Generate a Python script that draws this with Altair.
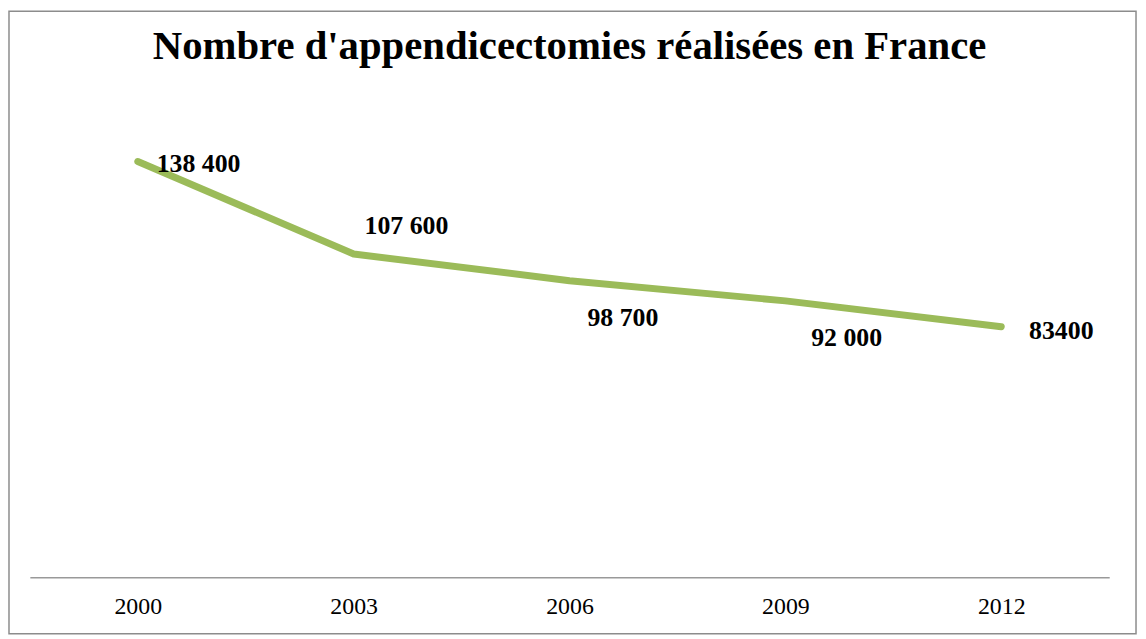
import altair as alt
import pandas as pd

years = ["2000", "2003", "2006", "2009", "2012"]
values = [138400, 107600, 98700, 92000, 83400]
labels = ["138 400", "107 600", "98 700", "92 000", "83400"]

# per-label offsets (style, in pixels)
label_dx = [19, 11, 18, 26, 28]
label_dy = [3, -28, 38, 37, 4]

df = pd.DataFrame({"year": years, "value": values, "label": labels})

FONT = "Liberation Serif"

x = alt.X("year:O", title=None,
          axis=alt.Axis(labelAngle=0, ticks=False, domainColor="#999999", domainWidth=1.5,
                        labelFont=FONT, labelFontSize=24, labelColor="#000000", labelPadding=18))
y = alt.Y("value:Q", scale=alt.Scale(domain=[0, 160000], nice=False, zero=True), axis=None)

base = alt.Chart(df)

line = base.mark_line(color="#9BBB59", strokeWidth=7, strokeCap="round", strokeJoin="round").encode(x=x, y=y)

layers = [line]
for yr, dx, dy in zip(years, label_dx, label_dy):
    layers.append(
        base.transform_filter(alt.datum.year == yr)
        .mark_text(font=FONT, fontSize=26, fontWeight="bold", color="#000000",
                   align="left", baseline="middle", dx=dx, dy=dy)
        .encode(x=x, y=y, text="label:N")
    )

frame = alt.Chart(pd.DataFrame({"a": [0]})).mark_rect(
    fill="transparent", stroke="#8c8c8c", strokeWidth=1.5
).encode(x=alt.value(-21), x2=alt.value(1114), y=alt.value(-86), y2=alt.value(541))

chart = alt.layer(frame, *layers).properties(
    width=1087, height=484,
    title=alt.TitleParams("Nombre d'appendicectomies réalisées en France",
                          font=FONT, fontSize=41, fontWeight="bold", color="#000000",
                          anchor="middle", frame="group", baseline="alphabetic", offset=-90),
    autosize=alt.AutoSizeParams(type="none"),
    padding={"left": 22, "top": 87, "right": 29, "bottom": 60},
).configure(background="white").configure_view(stroke=None)

chart.save("out.html", embed_options={"renderer": "svg", "actions": False})
